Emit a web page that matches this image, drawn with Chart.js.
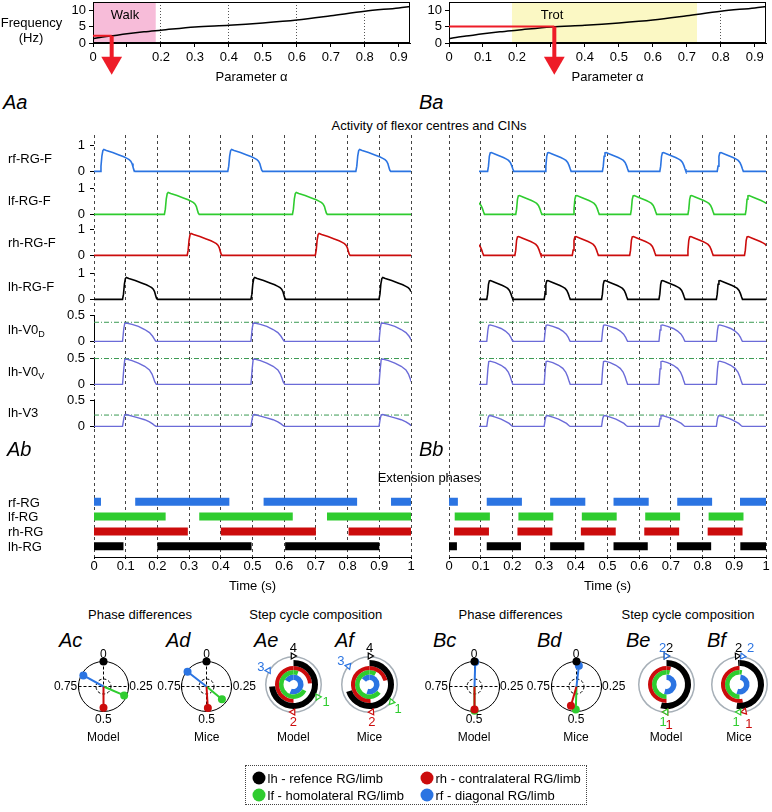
<!DOCTYPE html>
<html>
<head>
<meta charset="utf-8">
<script src="https://cdn.jsdelivr.net/npm/chart.js@4.4.0/dist/chart.umd.min.js"></script>
<style>
  body { margin: 0; background: #fff; }
  #stage { position: relative; width: 772px; height: 812px; overflow: hidden;
           font-family: "Liberation Sans", Arial, Helvetica, sans-serif; color: #000; }
  #stage canvas { position: absolute; }
  .t { position: absolute; white-space: nowrap; line-height: 1; font-size: 13px; }
  .sm { font-size: 12px; }
  .pl { font-style: italic; font-size: 20px; }
  .t sub { font-size: 9px; vertical-align: -3px; line-height: 0; }
  .legend { position: absolute; left: 245px; top: 765px; width: 342px; height: 40px;
            border: 1px dotted #444; box-sizing: border-box; }
  .dot { position: absolute; width: 13px; height: 13px; border-radius: 50%; transform: translate(-50%, -50%); }
</style>
</head>
<body>
<div id="stage"></div>
<script>
// ---- data: frequency vs parameter alpha ----
const alphaPts = [0, 0.02, 0.05, 0.1, 0.15, 0.2, 0.3, 0.4, 0.5, 0.6, 0.7, 0.8, 0.9, 0.933];
const freqHz = [1.3, 1.7, 2.1, 2.8, 3.4, 3.9, 4.9, 5.4, 6.1, 7.0, 8.3, 9.7, 10.7, 11.1];
const alphaTicks = [0, 0.1, 0.2, 0.3, 0.4, 0.5, 0.6, 0.7, 0.8, 0.9];
const alphaDotted = [0.2, 0.4, 0.6, 0.8];
const freqTicks = [0, 5, 10];
const walkRange = [0, 0.185];
const trotRange = [0.185, 0.73];
const walkPick = [0.055, 2.2];   // alpha, Hz
const trotPick = [0.31, 5.0];
const arrowHead = -6;            // Hz level where the arrow head sits (below the axis)

// ---- data: flexor / CIN activity (burst shapes: [time after onset, level]) ----
const timeTicks = [0, 0.1, 0.2, 0.3, 0.4, 0.5, 0.6, 0.7, 0.8, 0.9, 1];
const rgTicks = [0, 1];
const cinTicks = [0, 0.5];
const walkShapeRG = [[0,0],[0.003,0.2],[0.006,0.6],[0.009,0.8],[0.012,0.84],[0.02,0.8],[0.04,0.72],[0.06,0.63],[0.075,0.56],[0.085,0.5],[0.092,0.45],[0.097,0.39],[0.101,0.3],[0.104,0.17],[0.107,0.05],[0.11,0]];
const trotShapeRG = [[0,0],[0.003,0.2],[0.006,0.58],[0.009,0.71],[0.013,0.72],[0.025,0.67],[0.04,0.6],[0.055,0.53],[0.066,0.47],[0.073,0.42],[0.079,0.34],[0.084,0.22],[0.088,0.09],[0.091,0]];
const walkShapeV0D = [[0,0],[0.004,0.25],[0.007,0.35],[0.012,0.355],[0.03,0.33],[0.05,0.29],[0.07,0.23],[0.085,0.17],[0.095,0.1],[0.1,0.05],[0.104,0.01],[0.107,0]];
const walkShapeV0V = [[0,0],[0.004,0.3],[0.007,0.48],[0.012,0.49],[0.03,0.46],[0.05,0.41],[0.07,0.35],[0.085,0.28],[0.093,0.2],[0.098,0.12],[0.102,0.05],[0.107,0]];
const walkShapeV3 = [[0,0],[0.004,0.15],[0.007,0.225],[0.012,0.23],[0.03,0.2],[0.05,0.165],[0.07,0.13],[0.085,0.09],[0.095,0.05],[0.102,0.015],[0.107,0]];
const trotShapeV0D = [[0,0],[0.004,0.22],[0.007,0.31],[0.012,0.32],[0.03,0.29],[0.05,0.25],[0.065,0.2],[0.077,0.14],[0.084,0.08],[0.088,0.03],[0.091,0]];
const trotShapeV0V = [[0,0],[0.004,0.3],[0.007,0.44],[0.012,0.45],[0.03,0.42],[0.05,0.37],[0.065,0.31],[0.075,0.24],[0.082,0.15],[0.087,0.06],[0.091,0]];
const trotShapeV3 = [[0,0],[0.004,0.15],[0.007,0.2],[0.012,0.21],[0.03,0.18],[0.05,0.14],[0.065,0.1],[0.078,0.06],[0.086,0.02],[0.091,0]];

// burst onsets (s)
const walkOnRf = [0.019, 0.422, 0.826];
const walkOnLf = [0.222, 0.626];
const walkOnRh = [0.294, 0.698];
const walkOnLh = [0.09, 0.495, 0.899];
const trotOnRf = [0.03, 0.23, 0.43, 0.63, 0.83];
const trotOnLf = [-0.072, 0.128, 0.328, 0.528, 0.728, 0.928];
const trotOnRh = [-0.075, 0.125, 0.325, 0.525, 0.725, 0.925];
const trotOnLh = [0.027, 0.227, 0.427, 0.627, 0.827];
const cinLevels = [0.37, 0.5, 0.22];   // V0D, V0V, V3 dash-dot levels

// ---- data: extension phases [start, end] (s) ----
const walkExtRf = [[0,0.022],[0.13,0.427],[0.535,0.83],[0.937,1]];
const walkExtLf = [[0,0.226],[0.332,0.627],[0.735,1]];
const walkExtRh = [[0,0.296],[0.40,0.70],[0.803,1]];
const walkExtLh = [[0,0.093],[0.20,0.497],[0.603,0.90]];
const trotExtRf = [[0,0.028],[0.119,0.23],[0.319,0.43],[0.519,0.63],[0.72,0.83],[0.918,1]];
const trotExtLf = [[0.018,0.129],[0.219,0.329],[0.419,0.529],[0.619,0.729],[0.819,0.929]];
const trotExtRh = [[0.016,0.126],[0.216,0.326],[0.416,0.526],[0.616,0.726],[0.816,0.926]];
const trotExtLh = [[0,0.025],[0.119,0.227],[0.319,0.427],[0.519,0.627],[0.719,0.827],[0.919,1]];

// ---- data: phase differences [phase, length] for lh, lf, rh, rf ----
const phaseModelWalk = [[0,1],[0.315,0.9],[0.5,0.85],[0.83,0.92]];
const phaseMiceWalk = [[0,1],[0.36,0.8],[0.49,0.86],[0.855,0.96]];
const phaseModelTrot = [[0,1],[0.5,0.97],[0.5,0.92],[0.005,0.98]];
const phaseMiceTrot = [[0,1],[0.505,0.92],[0.545,0.8],[0.018,0.84]];

// ---- data: step cycle composition [stance start, stance duration] for lh, rh, lf, rf ----
const stepModelWalk = [[0,0.735],[0.5,0.74],[0.327,0.73],[0.83,0.735]];
const stepMiceWalk = [[0,0.7],[0.49,0.72],[0.36,0.72],[0.86,0.69]];
const stepModelTrot = [[0,0.54],[0.5,0.54],[0.5,0.54],[0,0.54]];
const stepMiceTrot = [[0.99,0.53],[0.47,0.53],[0.5,0.53],[0.02,0.53]];
const walkOrder = ['4', '2', '1', '3'];
const trotOrder = ['2', '1', '1', '2'];

// ---- styles ----
const C_LH = '#000000', C_LF = '#2fcc2f', C_RH = '#cc0c0c', C_RF = '#2b74e2';
const C_CIN = '#6b6bd8', C_THR = '#3a9a52', C_RED = '#ee1c28';

Chart.defaults.font.family = '"Liberation Sans", Arial, Helvetica, sans-serif';
Chart.defaults.font.size = 13;
Chart.defaults.color = '#000';
Chart.defaults.animation = false;
Chart.defaults.responsive = false;
Chart.defaults.events = [];
Chart.defaults.layout.autoPadding = false;
Chart.defaults.plugins.legend.display = false;
Chart.defaults.plugins.tooltip.enabled = false;

const stage = document.getElementById('stage');

function addCanvas(left, top, width, height) {
  const c = document.createElement('canvas');
  c.width = Math.round(width);
  c.height = Math.round(height);
  c.style.left = left + 'px';
  c.style.top = top + 'px';
  stage.appendChild(c);
  return c;
}

function label(html, x, y, align, cls, color) {
  const d = document.createElement('div');
  d.className = 't' + (cls ? ' ' + cls : '');
  d.innerHTML = html;
  const tx = align === 'center' ? '-50%' : align === 'right' ? '-100%' : '0';
  d.style.left = x + 'px';
  d.style.top = y + 'px';
  d.style.transform = 'translate(' + tx + ',-50%)';
  if (color) d.style.color = color;
  stage.appendChild(d);
  return d;
}

const near = (a, b) => Math.abs(a - b) < 1e-6;
const tickList = arr => s => { s.ticks = arr.map(v => ({ value: v })); };
const fmtTick = v => (near(v, 0) ? '0' : near(v, 1) ? '1' : v.toFixed(1));

const framePlugin = {
  id: 'frame',
  afterDraw(chart) {
    const a = chart.chartArea, ctx = chart.ctx;
    ctx.save();
    ctx.strokeStyle = '#000';
    ctx.lineWidth = 1;
    ctx.strokeRect(a.left + 0.5, a.top + 0.5, a.right - a.left - 1, a.bottom - a.top - 1);
    ctx.restore();
  }
};

// ---- top: frequency vs alpha ----
const F_TOP = 2, F_BOTTOM = 43, F_MAX = 12.5;
function freqChart(left, yW, width, range, boxColor, pick, hideTick) {
  const c = addCanvas(left, F_TOP - 1, width, 84);
  new Chart(c, {
    type: 'line',
    data: {
      datasets: [
        // first dataset is drawn on top
        { data: alphaPts.map((a, i) => ({ x: a, y: freqHz[i] })), borderColor: '#000',
          borderWidth: 1.5, pointRadius: 0, cubicInterpolationMode: 'monotone' },
        { data: [{ x: range[0], y: F_MAX }, { x: range[1], y: F_MAX }], borderWidth: 0,
          backgroundColor: boxColor, fill: 'origin', pointRadius: 0 }
      ]
    },
    options: {
      layout: { padding: { top: 1, right: width - yW - 317, left: 0, bottom: 0 } },
      scales: {
        x: {
          type: 'linear', min: 0, max: 0.933, z: 1,
          afterBuildTicks: tickList(alphaTicks),
          ticks: { callback: v => (near(v, hideTick) ? '' : fmtTick(v)), maxRotation: 0, autoSkip: false, padding: 3 },
          grid: { color: ctx => (alphaDotted.some(d => near(d, ctx.tick.value)) ? '#555' : 'rgba(0,0,0,0)'),
                  tickLength: 4, tickColor: '#000' },
          border: { color: '#000', dash: [1, 2] },
          title: { display: true, text: 'Parameter α', padding: 0 },
          afterFit: s => { s.height = 42; }
        },
        y: {
          min: 0, max: F_MAX,
          afterBuildTicks: tickList(freqTicks),
          ticks: { padding: 3, autoSkip: false },
          grid: { drawOnChartArea: false, tickLength: 4, tickColor: '#000' },
          border: { color: '#000' },
          afterFit: s => { s.width = yW; s.paddingTop = 0; s.paddingBottom = 0; }
        }
      }
    },
    plugins: [framePlugin]
  });
  // red read-out line and arrow, drawn on the same alpha / Hz scales but reaching below the axis
  const plotLeft = left + yW;
  const unit = (F_BOTTOM - F_TOP) / F_MAX;
  const ymin = -11.3;
  const a = addCanvas(plotLeft, F_TOP, 317, (F_MAX - ymin) * unit);
  new Chart(a, {
    type: 'line',
    data: {
      datasets: [
        { data: [{ x: 0, y: pick[1] }, { x: pick[0], y: pick[1] }], borderColor: C_RED,
          borderWidth: 2, pointRadius: 0 },
        { data: [{ x: pick[0], y: pick[1] }, { x: pick[0], y: arrowHead }], borderColor: C_RED,
          borderWidth: 4, pointRadius: [0, 12], pointStyle: 'triangle', pointRotation: 180,
          pointBackgroundColor: C_RED, pointBorderWidth: 0 }
      ]
    },
    options: {
      layout: { padding: 0 },
      scales: {
        x: { type: 'linear', min: 0, max: 0.933, display: false },
        y: { min: ymin, max: F_MAX, display: false }
      }
    }
  });
}

// ---- time axis with dashed grid (background of the trace columns) ----
function gridChart(plotLeft) {
  const c = addCanvas(plotLeft - 10, 135, 337, 459);
  new Chart(c, {
    type: 'line',
    data: { datasets: [] },
    options: {
      layout: { padding: { left: 10, right: 10, top: 0, bottom: 0 } },
      scales: {
        x: {
          type: 'linear', min: 0, max: 1,
          afterBuildTicks: tickList(timeTicks),
          ticks: { callback: fmtTick, maxRotation: 0, autoSkip: false, padding: 0 },
          grid: { color: '#444', tickLength: 2, tickColor: '#000' },
          border: { color: '#000', dash: [3, 3] },
          title: { display: true, text: 'Time (s)', padding: 0 },
          afterFit: s => { s.height = 37; }
        },
        y: { display: false, min: 0, max: 1 }
      }
    }
  });
}

function burstTrain(onsets, shape) {
  const pts = [];
  if (onsets[0] > 0) pts.push({ x: 0, y: 0 });
  onsets.forEach(o => shape.forEach(([dt, v]) => pts.push({ x: o + dt, y: v })));
  if (pts[pts.length - 1].x < 1) pts.push({ x: 1, y: 0 });
  return pts;
}

const Y_W = 30, ROW_PAD = 9;
function traceRow(plotLeft, withAxis, y0, unit, ymin, ymax, ticks, datasets, yBorder) {
  const left = withAxis ? plotLeft - Y_W : plotLeft;
  const width = withAxis ? 317 + Y_W : 317;
  const c = addCanvas(left, y0 - ymax * unit - ROW_PAD, width, (ymax - ymin) * unit + 2 * ROW_PAD);
  new Chart(c, {
    type: 'line',
    data: { datasets },
    options: {
      layout: { padding: { top: ROW_PAD, bottom: ROW_PAD, left: 0, right: 0 } },
      scales: {
        x: { type: 'linear', min: 0, max: 1, display: false },
        y: {
          min: ymin, max: ymax, display: withAxis,
          afterBuildTicks: tickList(ticks),
          ticks: { padding: 5, autoSkip: false, callback: v => String(v) },
          grid: { drawOnChartArea: false, tickLength: 4, tickColor: '#000' },
          border: { display: yBorder, color: '#000' },
          afterFit: s => { s.width = Y_W; s.paddingTop = 0; s.paddingBottom = 0; }
        }
      }
    }
  });
}

const RG_ZERO = [171.7, 214, 255.7, 299], RG_UNIT = 26;
const CIN_ZERO = [341.3, 383.7, 426.3], CIN_UNIT = 51;

function traceColumn(plotLeft, withAxis, onsets, shapeRG, cinShapes) {
  const colors = [C_RF, C_LF, C_RH, C_LH];
  onsets.forEach((on, i) => {
    traceRow(plotLeft, withAxis, RG_ZERO[i], RG_UNIT, -0.1, 1.05, rgTicks, [
      { data: burstTrain(on, shapeRG), borderColor: colors[i], borderWidth: 1.6, pointRadius: 0 }
    ], false);
  });
  cinShapes.forEach((shape, i) => {
    traceRow(plotLeft, withAxis, CIN_ZERO[i], CIN_UNIT, -0.01, 0.51, cinTicks, [
      { data: burstTrain(onsets[3], shape), borderColor: C_CIN, borderWidth: 1.4, pointRadius: 0 },
      { data: [{ x: 0, y: cinLevels[i] }, { x: 1, y: cinLevels[i] }], borderColor: C_THR,
        borderWidth: 1, borderDash: [5, 2, 1, 2], pointRadius: 0 }
    ], withAxis);
  });
}

function barSegments(segs, row) {
  const pts = [];
  segs.forEach(([s, e]) => pts.push({ x: s, y: row }, { x: e, y: row }, { x: e, y: null }));
  return pts;
}

function extBars(plotLeft, rf, lf, rh, lh) {
  const unit = 14.67, y0 = 545.7, ymin = -0.6, ymax = 3.6;
  const c = addCanvas(plotLeft, y0 - ymax * unit, 317, (ymax - ymin) * unit);
  const rows = [[rf, 3, C_RF], [lf, 2, C_LF], [rh, 1, C_RH], [lh, 0, C_LH]];
  new Chart(c, {
    type: 'line',
    data: {
      datasets: rows.map(([segs, row, col]) => ({
        data: barSegments(segs, row), borderColor: col, borderWidth: 8,
        borderCapStyle: 'butt', pointRadius: 0, spanGaps: false
      }))
    },
    options: {
      layout: { padding: 0 },
      scales: {
        x: { type: 'linear', min: 0, max: 1, display: false },
        y: { min: ymin, max: ymax, display: false }
      }
    }
  });
}

// ---- polar phase difference plots ----
const polarFrame = {
  id: 'polarFrame',
  beforeDatasetsDraw(chart) {
    const { x, y } = chart.scales, ctx = chart.ctx;
    const cx = x.getPixelForValue(0), cy = y.getPixelForValue(0);
    const r = x.getPixelForValue(1) - cx;
    ctx.save();
    ctx.strokeStyle = '#000';
    ctx.lineWidth = 1;
    ctx.beginPath(); ctx.arc(cx, cy, r, 0, 2 * Math.PI); ctx.stroke();
    ctx.beginPath();
    ctx.moveTo(cx - r, cy - 3); ctx.lineTo(cx - r, cy + 3);
    ctx.moveTo(cx + r, cy - 3); ctx.lineTo(cx + r, cy + 3);
    ctx.stroke();
    ctx.setLineDash([3, 2]);
    ctx.beginPath(); ctx.arc(cx, cy, r * 0.3, 0, 2 * Math.PI); ctx.stroke();
    ctx.beginPath();
    ctx.moveTo(cx - r, cy); ctx.lineTo(cx + r, cy);
    ctx.moveTo(cx, cy - r); ctx.lineTo(cx, cy + r);
    ctx.stroke();
    ctx.restore();
  }
};

const polarXY = (phase, len) => ({ x: len * Math.sin(2 * Math.PI * phase), y: len * Math.cos(2 * Math.PI * phase) });

function phasePlot(cx, cy, vals, caption) {
  const R = 25, span = 1.3;
  const c = addCanvas(cx - span * R, cy - span * R, 2 * span * R, 2 * span * R);
  const [lh, lf, rh, rf] = vals;
  const vec = (p, col) => ({
    data: [{ x: 0, y: 0 }, polarXY(p[0], p[1])], borderColor: col, borderWidth: 2,
    pointRadius: [0, 4], pointBackgroundColor: col, pointBorderWidth: 0, showLine: true
  });
  new Chart(c, {
    type: 'scatter',
    data: {
      // first dataset is drawn on top
      datasets: [
        { data: [polarXY(lh[0], lh[1])], pointRadius: 4, pointBackgroundColor: C_LH, pointBorderWidth: 0 },
        vec(rf, C_RF), vec(rh, C_RH), vec(lf, C_LF)
      ]
    },
    options: {
      layout: { padding: 0 },
      scales: {
        x: { min: -span, max: span, display: false },
        y: { min: -span, max: span, display: false }
      }
    },
    plugins: [polarFrame]
  });
  label('0', cx, cy - 32.5, 'center', 'sm');
  label('0.5', cx, cy + 32.5, 'center', 'sm');
  label('0.75', cx - 26, cy, 'right', 'sm');
  label('0.25', cx + 26, cy, 'left', 'sm');
  label(caption, cx, 737, 'center', 'sm');
}

// ---- step cycle composition rings ----
function ringSegments(start, dur, col) {
  const end = start + dur, none = 'rgba(0,0,0,0)';
  if (end <= 1) return { data: [start, dur, 1 - end], backgroundColor: [none, col, none] };
  return { data: [end - 1, 1 - dur, 1 - start], backgroundColor: [col, none, col] };
}

function stepPlot(cx, cy, rings, order, numShift, caption) {
  const cols = [C_LH, C_RH, C_LF, C_RF];
  const weights = [6, 4, 4.5, 5.5];
  const c = addCanvas(cx - 28.5, cy - 28.5, 57, 57);
  new Chart(c, {
    type: 'doughnut',
    data: {
      datasets: [
        { data: [1], backgroundColor: ['#a7b0b8'], weight: 1.5, borderWidth: 0 },
        { data: [1], backgroundColor: ['rgba(0,0,0,0)'], weight: 2.5, borderWidth: 0 }
      ].concat(rings.map((r, i) => Object.assign(ringSegments(r[0], r[1], cols[i]),
        { weight: weights[i], borderWidth: 0 })))
    },
    options: { cutout: 4.5, layout: { padding: 0 }, hoverOffset: 0 }
  });
  // footfall markers on the outer circle (rf marker on top)
  const m = addCanvas(cx - 42, cy - 42, 84, 84);
  const idx = [3, 2, 1, 0];
  new Chart(m, {
    type: 'scatter',
    data: {
      datasets: idx.map(i => ({
        data: [polarXY(rings[i][0] % 1, 1)], pointStyle: 'triangle', pointRadius: 3.5,
        pointRotation: (rings[i][0] % 1) * 360 + 90, pointBackgroundColor: '#fff',
        pointBorderColor: cols[i], pointBorderWidth: 1.2
      }))
    },
    options: {
      layout: { padding: 0 },
      scales: { x: { min: -1.5, max: 1.5, display: false }, y: { min: -1.5, max: 1.5, display: false } }
    }
  });
  rings.forEach((r, i) => {
    const p = polarXY(r[0] % 1, 37);
    const sh = numShift[i] || [0, 0];
    label(order[i], cx + p.x + sh[0], cy - p.y + sh[1], 'center', '', cols[i]);
  });
  label(caption, cx, 737, 'center', 'sm');
}

// ================= build the figure =================
freqChart(50, 43, 368, walkRange, '#f7bcd9', walkPick, 0.1);
freqChart(414, 35, 358, trotRange, '#fbf8c4', trotPick, 0.3);
label('Frequency', 31.5, 21.5, 'center');
label('(Hz)', 31, 37, 'center');
label('Walk', 125, 14, 'center');
label('Trot', 552, 14, 'center');

label('Aa', 3, 102, 'left', 'pl');
label('Ba', 419, 102, 'left', 'pl');
label('Activity of flexor centres and CINs', 429, 124.5, 'center');

gridChart(94);
gridChart(449);

traceColumn(94, true, [walkOnRf, walkOnLf, walkOnRh, walkOnLh], walkShapeRG,
  [walkShapeV0D, walkShapeV0V, walkShapeV3]);
traceColumn(449, false, [trotOnRf, trotOnLf, trotOnRh, trotOnLh], trotShapeRG,
  [trotShapeV0D, trotShapeV0V, trotShapeV3]);

const rowNames = ['rf-RG-F', 'lf-RG-F', 'rh-RG-F', 'lh-RG-F', 'lh-V0<sub>D</sub>', 'lh-V0<sub>V</sub>', 'lh-V3'];
const rowY = [157.7, 200, 242.3, 285.7, 329.3, 371, 411.7];
rowNames.forEach((n, i) => label(n, 8, rowY[i], 'left'));

label('Ab', 7, 449, 'left', 'pl');
label('Bb', 419, 449, 'left', 'pl');
label('Extension phases', 429, 476.5, 'center');

extBars(94, walkExtRf, walkExtLf, walkExtRh, walkExtLh);
extBars(449, trotExtRf, trotExtLf, trotExtRh, trotExtLh);
['rf-RG', 'lf-RG', 'rh-RG', 'lh-RG'].forEach((n, i) => label(n, 8, [501.7, 516, 530.7, 545.7][i], 'left'));

// bottom row
label('Phase differences', 140, 614, 'center');
label('Step cycle composition', 315.7, 614, 'center');
label('Phase differences', 510.5, 614, 'center');
label('Step cycle composition', 688, 614, 'center');
[['Ac', 59], ['Ad', 166], ['Ae', 254], ['Af', 335], ['Bc', 433], ['Bd', 537], ['Be', 626], ['Bf', 707]]
  .forEach(([t, x]) => label(t, x, 640, 'left', 'pl'));

phasePlot(103.3, 686, phaseModelWalk, 'Model');
phasePlot(206.7, 686, phaseMiceWalk, 'Mice');
phasePlot(474, 686, phaseModelTrot, 'Model');
phasePlot(576, 686, phaseMiceTrot, 'Mice');

stepPlot(293.3, 684, stepModelWalk, walkOrder, [], 'Model');
stepPlot(369.5, 684, stepMiceWalk, walkOrder, [], 'Mice');
stepPlot(666, 684, stepModelTrot, trotOrder, [[3.5, 0], [3, 3], [-3, 0], [-3.5, 0]], 'Model');
stepPlot(739, 684, stepMiceTrot, trotOrder, [[2, 0], [3, 3], [-3, 0], [7, 0]], 'Mice');

// legend
const lg = document.createElement('div');
lg.className = 'legend';
stage.appendChild(lg);
const legendItems = [
  [C_LH, 'lh - refence RG/limb', 258.5, 777.5],
  [C_RH, 'rh - contralateral RG/limb', 426.5, 777.5],
  [C_LF, 'lf - homolateral RG/limb', 258.5, 795],
  [C_RF, 'rf - diagonal RG/limb', 426.5, 795]
];
legendItems.forEach(([col, txt, x, y]) => {
  const d = document.createElement('div');
  d.className = 'dot';
  d.style.left = x + 'px';
  d.style.top = y + 'px';
  d.style.background = col;
  stage.appendChild(d);
  label(txt, x + 9, y, 'left');
});
</script>
</body>
</html>
